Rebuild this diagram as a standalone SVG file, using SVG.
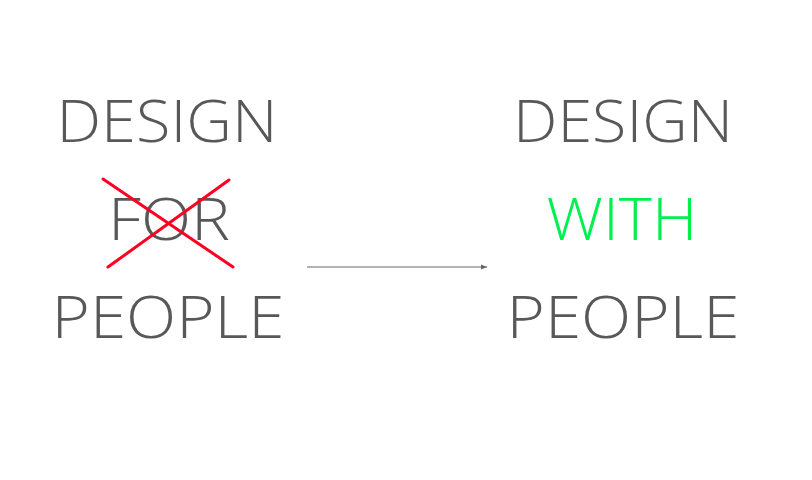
<svg xmlns="http://www.w3.org/2000/svg" width="812" height="480" viewBox="0 0 812 480">
<style>
.t{font-family:"Open Sans","Liberation Sans",sans-serif;font-weight:300;font-size:58px;fill:#585858;text-anchor:middle}
.g{fill:#00f050}
.x{stroke:#ff0022;stroke-width:3;stroke-linecap:round}
.c{stroke:#666;stroke-width:1;fill:none}
</style>
<defs>
<marker id="ah" viewBox="0 0 10 10" refX="10" refY="5" markerWidth="6" markerHeight="6" orient="auto" markerUnits="userSpaceOnUse">
<path d="M0,1 L10,5 L0,9 z" fill="#666"/>
</marker>
</defs>
<rect width="812" height="480" fill="#fff"/>
<g id="left">
<text class="t" x="167" y="142" textLength="221" lengthAdjust="spacingAndGlyphs">DESIGN</text>
<text class="t" x="169" y="240" textLength="122" lengthAdjust="spacingAndGlyphs">FOR</text>
<text class="t" x="168" y="338" textLength="233" lengthAdjust="spacingAndGlyphs">PEOPLE</text>
<line class="x" x1="103" y1="179" x2="233" y2="267"/>
<line class="x" x1="229" y1="180" x2="108" y2="267"/>
</g>
<g id="right">
<text class="t" x="623" y="142" textLength="220" lengthAdjust="spacingAndGlyphs">DESIGN</text>
<text class="t g" x="622" y="240" textLength="151" lengthAdjust="spacingAndGlyphs">WITH</text>
<text class="t" x="623" y="338" textLength="233" lengthAdjust="spacingAndGlyphs">PEOPLE</text>
</g>
<g id="connectors">
<line class="c" x1="307" y1="267" x2="487" y2="267" marker-end="url(#ah)"/>
</g>
</svg>
